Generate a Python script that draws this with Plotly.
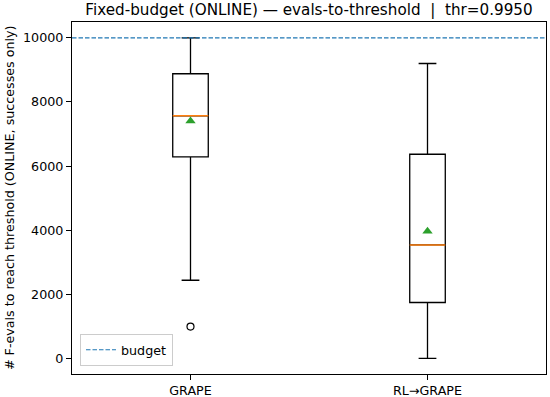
import plotly.graph_objects as go

# ---- data ----
categories = ["GRAPE", "RL→GRAPE"]
positions = [1, 2]
q1 = [6290, 1745]
median = [7570, 3540]
q3 = [8880, 6370]
lower_whisker = [2440, 0]
upper_whisker = [10000, 9200]
means = [7405, 3970]
outlier_x = [1]
outlier_y = [995]
budget = 10000
y_ticks = [0, 2000, 4000, 6000, 8000, 10000]

BOX_W = 0.15
FONT = "DejaVu Sans"
FS = 12.7

# plot area in pixels (matches the reference layout)
L, R, T, B = 72, 546.5, 21.7, 374
W, H = 550, 397
PW, PH = R - L, B - T

fig = go.Figure()

fig.add_trace(go.Box(
    x=positions, q1=q1, median=median, q3=q3,
    lowerfence=lower_whisker, upperfence=upper_whisker,
    width=BOX_W, whiskerwidth=0.5,
    line=dict(color="black", width=1.3),
    fillcolor="rgba(0,0,0,0)", boxpoints=False,
    showlegend=False, hoverinfo="skip",
))

# orange median lines
for p, m in zip(positions, median):
    fig.add_trace(go.Scatter(
        x=[p - BOX_W / 2, p + BOX_W / 2], y=[m, m], mode="lines",
        line=dict(color="#ff7f0e", width=1.6), showlegend=False, hoverinfo="skip",
    ))

# means
fig.add_trace(go.Scatter(
    x=positions, y=means, mode="markers",
    marker=dict(symbol="triangle-up", color="#2ca02c", size=9),
    showlegend=False, hoverinfo="skip",
))

# outliers
fig.add_trace(go.Scatter(
    x=outlier_x, y=outlier_y, mode="markers",
    marker=dict(symbol="circle-open", color="black", size=7, line=dict(width=1.2)),
    showlegend=False, hoverinfo="skip",
))

# budget line
fig.add_trace(go.Scatter(
    x=[0.5, 2.5], y=[budget, budget], mode="lines", name="budget",
    line=dict(color="#1f77b4", width=1.2, dash="4.5px,2px"),
))

fig.update_layout(
    width=W, height=H,
    margin=dict(l=L, r=W - R, t=T, b=H - B, autoexpand=False),
    paper_bgcolor="white", plot_bgcolor="white",
    font=dict(family=FONT, size=FS, color="black"),
    title=dict(
        text="Fixed-budget (ONLINE) — evals-to-threshold  |  thr=0.9950",
        x=0.5, xref="paper", xanchor="center",
        y=1 - 9.5 / H, yref="container", yanchor="middle",
        font=dict(family=FONT, size=15.2, color="black"),
    ),
    legend=dict(
        x=8 / PW, y=8 / PH, xanchor="left", yanchor="bottom",
        bordercolor="#cccccc", borderwidth=1, bgcolor="rgba(255,255,255,0.8)",
        font=dict(family=FONT, size=FS),
    ),
    showlegend=True,
)

fig.update_xaxes(
    range=[0.5, 2.5], tickmode="array", tickvals=positions, ticktext=categories,
    showline=True, linecolor="black", linewidth=1.1, mirror=True,
    ticks="outside", ticklen=5, tickwidth=1, tickcolor="black",
    showgrid=False, zeroline=False, automargin=False,
)
fig.update_yaxes(
    range=[-485, 10495], tickmode="array", tickvals=y_ticks,
    ticktext=[str(v) for v in y_ticks],
    showline=True, linecolor="black", linewidth=1.1, mirror=True,
    ticks="outside", ticklen=5, tickwidth=1, tickcolor="black",
    showgrid=False, zeroline=False, automargin=False,
)

fig.add_annotation(
    text="# F-evals to reach threshold (ONLINE, successes only)",
    textangle=-90, xref="paper", x=(9 - L) / PW, xanchor="center",
    y=0.5, yref="paper", yanchor="middle",
    showarrow=False, font=dict(family=FONT, size=FS, color="black"),
)

fig.write_html(
    "out.html",
    config={"displayModeBar": False},
    post_script="document.body.style.margin='0px';document.body.style.padding='0px';",
)
